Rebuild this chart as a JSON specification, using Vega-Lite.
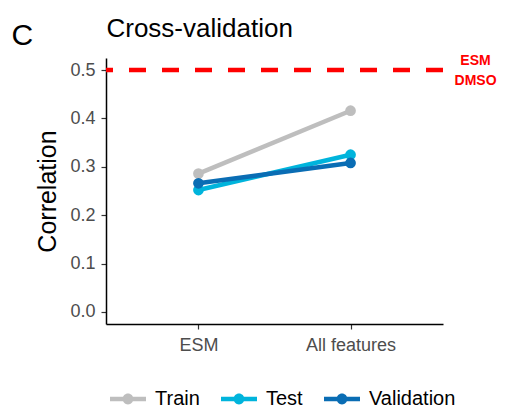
{
  "$schema": "https://vega.github.io/schema/vega-lite/v6.json",
  "width": 337,
  "height": 266,
  "autosize": {"type": "none"},
  "padding": {"left": 106, "top": 58, "right": 63, "bottom": 86},
  "background": "white",
  "config": {
    "font": "Liberation Sans",
    "view": {"stroke": null},
    "axis": {"grid": false, "domainColor": "black", "domainWidth": 1.5, "tickColor": "#333333", "tickWidth": 1.2, "tickSize": 5, "labelColor": "#4d4d4d", "labelFontSize": 18, "labelFont": "Liberation Sans", "titleFont": "Liberation Sans", "titleFontWeight": "normal", "titleColor": "black"}
  },
  "datasets": {
    "cv": [
      {"set": "Train", "feature": "ESM", "r": 0.286},
      {"set": "Train", "feature": "All features", "r": 0.416},
      {"set": "Test", "feature": "ESM", "r": 0.252},
      {"set": "Test", "feature": "All features", "r": 0.325},
      {"set": "Validation", "feature": "ESM", "r": 0.266},
      {"set": "Validation", "feature": "All features", "r": 0.308}
    ],
    "ref": [{"r": 0.5, "label": ["ESM", "DMSO"], "feature": "All features"}],
    "panel": [{"r": 0.552, "feature": "ESM", "label": "C"}],
    "heading": [{"r": 0.568, "feature": "ESM", "label": "Cross-validation"}]
  },
  "layer": [
    {
      "data": {"name": "ref"},
      "mark": {"type": "rule", "color": "#ff0000", "strokeWidth": 4.5, "strokeDash": [17, 16]},
      "encoding": {"y": {"field": "r", "type": "quantitative"}}
    },
    {
      "data": {"name": "cv"},
      "mark": {"type": "line", "strokeWidth": 4.5},
      "encoding": {
        "x": {"field": "feature", "type": "nominal", "sort": ["ESM", "All features"], "scale": {"type": "point", "padding": 0.608}, "axis": {"title": null, "labelPadding": 7, "labelAngle": 0, "domainColor": "black"}},
        "y": {"field": "r", "type": "quantitative", "scale": {"domain": [-0.025, 0.525], "nice": false, "zero": false}, "axis": {"title": "Correlation", "titleFontSize": 25, "values": [0, 0.1, 0.2, 0.3, 0.4, 0.5], "format": ".1f", "labelPadding": 6, "titlePadding": 9}},
        "color": {"field": "set", "type": "nominal", "scale": {"domain": ["Train", "Test", "Validation"], "range": ["#bebebe", "#00b4dc", "#0a6db4"]}, "legend": {"title": null, "orient": "none", "direction": "horizontal", "legendX": 4, "legendY": 323, "symbolType": "M-1,-0.12H1V0.12H-1Z M-0.3,0A0.3,0.3 0 1,1 0.3,0A0.3,0.3 0 1,1 -0.3,0Z", "symbolSize": 1296, "symbolStrokeWidth": 0, "symbolOpacity": 1, "labelFontSize": 20, "labelColor": "black", "labelFont": "Liberation Sans", "labelOffset": 9, "columnPadding": 21}},
        "detail": {"field": "set"}
      }
    },
    {
      "data": {"name": "cv"},
      "mark": {"type": "point", "filled": true, "size": 115, "opacity": 1},
      "encoding": {
        "x": {"field": "feature", "type": "nominal", "sort": ["ESM", "All features"]},
        "y": {"field": "r", "type": "quantitative"},
        "color": {"field": "set", "type": "nominal", "legend": {"title": null, "orient": "none", "direction": "horizontal", "legendX": 4, "legendY": 323, "symbolType": "M-1,-0.12H1V0.12H-1Z M-0.3,0A0.3,0.3 0 1,1 0.3,0A0.3,0.3 0 1,1 -0.3,0Z", "symbolSize": 1296, "symbolStrokeWidth": 0, "symbolOpacity": 1, "labelFontSize": 20, "labelColor": "black", "labelFont": "Liberation Sans", "labelOffset": 9, "columnPadding": 21}}
      }
    },
    {
      "data": {"name": "ref"},
      "mark": {"type": "text", "color": "#ff0000", "fontWeight": "bold", "fontSize": 14, "lineHeight": 20, "align": "center", "baseline": "alphabetic", "dy": -5, "dx": 125, "font": "Liberation Sans"},
      "encoding": {"x": {"field": "feature", "type": "nominal", "sort": ["ESM", "All features"]}, "y": {"field": "r", "type": "quantitative"}, "text": {"field": "label"}}
    },
    {
      "data": {"name": "panel"},
      "mark": {"type": "text", "color": "black", "fontSize": 30, "align": "left", "baseline": "alphabetic", "dx": -187, "font": "Liberation Sans"},
      "encoding": {"x": {"field": "feature", "type": "nominal", "sort": ["ESM", "All features"]}, "y": {"field": "r", "type": "quantitative"}, "text": {"field": "label"}}
    },
    {
      "data": {"name": "heading"},
      "mark": {"type": "text", "color": "black", "fontSize": 26, "align": "left", "baseline": "alphabetic", "dx": -92, "font": "Liberation Sans"},
      "encoding": {"x": {"field": "feature", "type": "nominal", "sort": ["ESM", "All features"]}, "y": {"field": "r", "type": "quantitative"}, "text": {"field": "label"}}
    }
  ]
}
